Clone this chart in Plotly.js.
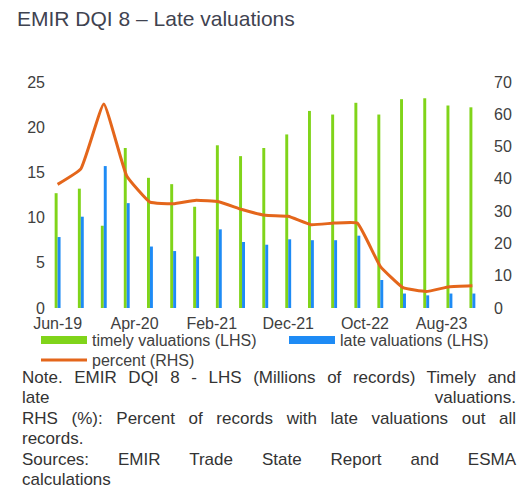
<!DOCTYPE html>
<html>
<head>
<meta charset="utf-8">
<script src="https://cdn.plot.ly/plotly-3.0.1.min.js"></script>
<style>
  html, body { margin: 0; padding: 0; background: #fff; }
  #wrap { position: relative; width: 527px; height: 491px; }
  #chart { position: absolute; left: 0; top: 0; width: 527px; height: 491px; }
  #notes { position: absolute; left: 22px; top: 368px; width: 494px;
           font-family: "Liberation Sans", Arial, sans-serif; font-size: 17px;
           line-height: 20.4px; color: #333333; }
  #notes .j { text-align: justify; text-align-last: justify; white-space: nowrap; }
  #notes .sb { display: flex; justify-content: space-between; }
</style>
</head>
<body>
<div id="wrap">
  <div id="chart"></div>
  <div id="notes">
    <div class="j">Note. EMIR DQI 8 - LHS (Millions of records) Timely and</div>
    <div class="sb"><span>late</span><span>valuations.</span></div>
    <div class="j">RHS (%): Percent of records with late valuations out all</div>
    <div>records.</div>
    <div class="j">Sources: EMIR Trade State Report and ESMA</div>
    <div>calculations</div>
  </div>
</div>
<script>
// Quarter-end observation dates
const dates = [
  '2019-06-01','2019-09-01','2019-12-01','2020-03-01','2020-06-01','2020-09-01',
  '2020-12-01','2021-03-01','2021-06-01','2021-09-01','2021-12-01','2022-03-01',
  '2022-06-01','2022-09-01','2022-12-01','2023-03-01','2023-06-01','2023-09-01',
  '2023-12-01'
];
// Millions of records (LHS)
const timely = [12.7, 13.2, 9.1, 17.7, 14.4, 13.7, 11.2, 18.0, 16.8, 17.7,
                19.2, 21.8, 21.4, 22.7, 21.4, 23.1, 23.2, 22.4, 22.2];
const late   = [7.85, 10.1, 15.7, 11.6, 6.8, 6.3, 5.7, 8.7, 7.3, 7.0,
                7.6, 7.5, 7.5, 8.0, 3.1, 1.6, 1.4, 1.6, 1.6];
// Percent of records with late valuations (RHS)
const percent = [38.3, 43.1, 63.2, 40.9, 32.8, 32.3, 33.4, 32.9, 30.5, 28.7,
                 28.4, 25.8, 26.3, 26.3, 12.9, 6.3, 5.1, 6.6, 6.9];

const names = ['timely valuations (LHS)', 'late valuations (LHS)', 'percent (RHS)'];
const GREEN = '#80D41A', BLUE = '#1E8BF5', ORANGE = '#E4661B';
const FONT = '"Liberation Sans", Arial, sans-serif';
const TXT = '#404040';

const traces = [
  { type: 'bar', x: dates, y: timely, name: names[0], marker: { color: GREEN },
    showlegend: false, yaxis: 'y', hoverinfo: 'skip' },
  { type: 'bar', x: dates, y: late, name: names[1], marker: { color: BLUE },
    showlegend: false, yaxis: 'y', hoverinfo: 'skip' },
  { type: 'scatter', mode: 'lines', x: dates, y: percent, name: names[2],
    line: { color: ORANGE, width: 3, shape: 'spline', smoothing: 0.35 },
    yaxis: 'y2', showlegend: false },
  // legend swatches
  { type: 'scatter', mode: 'lines', x: [null], y: [null], name: names[0],
    line: { color: GREEN, width: 8 }, showlegend: true, legend: 'legend' },
  { type: 'scatter', mode: 'lines', x: [null], y: [null], name: names[1],
    line: { color: BLUE, width: 8 }, showlegend: true, legend: 'legend2' },
  { type: 'scatter', mode: 'lines', x: [null], y: [null], name: names[2],
    line: { color: ORANGE, width: 3 }, showlegend: true, legend: 'legend3' }
];

function leg(xpx, ypx) {
  return { orientation: 'h', xref: 'container', yref: 'container',
           x: xpx / 527, xanchor: 'left', y: 1 - ypx / 491, yanchor: 'top',
           itemwidth: 46, font: { size: 16, color: TXT }, bgcolor: 'rgba(0,0,0,0)' };
}

const layout = {
  width: 527, height: 491,
  margin: { l: 46, r: 43, t: 82, b: 183 },
  paper_bgcolor: '#ffffff', plot_bgcolor: '#ffffff',
  font: { family: FONT, size: 16, color: TXT },
  title: { text: 'EMIR DQI 8 – Late valuations', x: 17 / 527, xanchor: 'left',
           xref: 'container', y: 1 - 19 / 491, yanchor: 'middle', yref: 'container',
           font: { family: FONT, size: 21, color: '#3F4350' } },
  barmode: 'group', bargap: 0.74, bargroupgap: 0,
  xaxis: { type: 'date', range: ['2019-04-16', '2024-01-16'],
           tick0: '2019-06-01', dtick: 'M10', tickformat: '%b-%y',
           showgrid: false, zeroline: false, showline: false, ticks: '',
           ticklabelstandoff: 4,
           tickfont: { size: 16, color: TXT }, fixedrange: true },
  yaxis: { range: [0, 25], dtick: 5, showgrid: false, zeroline: false,
           showline: false, ticks: '', tickfont: { size: 16, color: TXT } },
  yaxis2: { range: [0, 70], dtick: 10, overlaying: 'y', side: 'right',
            showgrid: false, zeroline: false, showline: false, ticks: '',
            ticklabelstandoff: 9, tickfont: { size: 16, color: TXT } },
  showlegend: true,
  legend: leg(36, 323),
  legend2: leg(284, 323),
  legend3: leg(36, 343)
};

Plotly.newPlot('chart', traces, layout, { staticPlot: true, displayModeBar: false });
</script>
</body>
</html>
